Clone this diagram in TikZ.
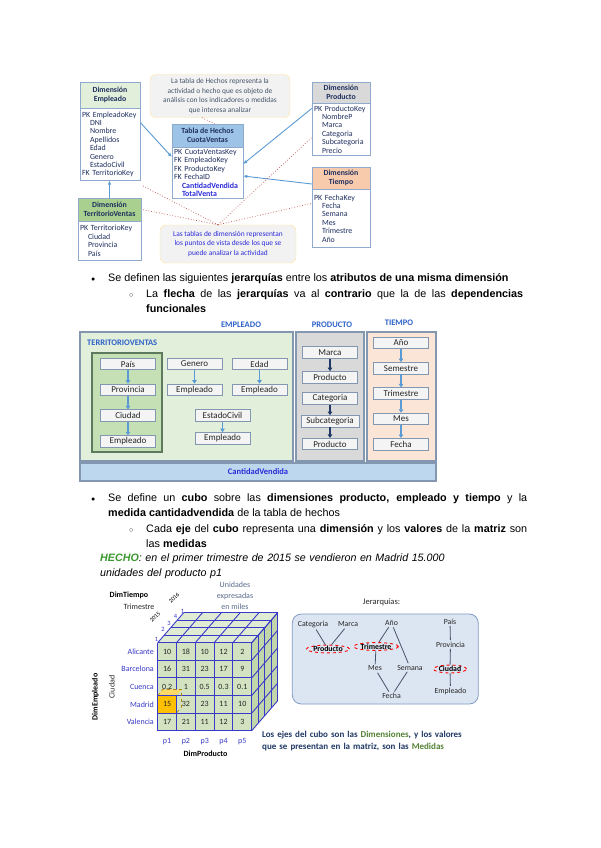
\documentclass[tikz,border=0pt]{standalone}
\usepackage{fontspec}
\setmainfont{Liberation Sans}
\newfontfamily\calib{Carlito}
\usetikzlibrary{positioning,arrows.meta,calc,shapes.geometric}

\definecolor{navy}{HTML}{1F2F5F}
\definecolor{tblborder}{HTML}{8FAACC}
\definecolor{hdempl}{HTML}{E2EFDA}
\definecolor{hdterr}{HTML}{A9D08E}
\definecolor{hdfact}{HTML}{9DC3E6}
\definecolor{hdprod}{HTML}{D9D9D9}
\definecolor{hdtiem}{HTML}{F8CBAD}
\definecolor{linkblue}{HTML}{5B9BD5}
\definecolor{dotred}{HTML}{C0504D}
\definecolor{notefill}{HTML}{F2F2F2}
\definecolor{noteedge}{HTML}{FFE699}
\definecolor{notegray}{HTML}{44546A}
\definecolor{textblue}{HTML}{2B2BD9}
\definecolor{panelblue}{HTML}{2E62C9}
\definecolor{panelgreen}{HTML}{E2EFDA}
\definecolor{terrgreen}{HTML}{C5E0B4}
\definecolor{terredge}{HTML}{5E7A5E}
\definecolor{panelgray}{HTML}{D9D9D9}
\definecolor{panelpeach}{HTML}{FBE5D6}
\definecolor{barblue}{HTML}{BDD7EE}
\definecolor{paneledge}{HTML}{8497B0}
\definecolor{hboxfill}{HTML}{F4F4F4}
\definecolor{txtdark}{HTML}{262626}
\definecolor{darkarrow}{HTML}{1F3864}
\definecolor{hechogreen}{HTML}{3A9A2E}
\definecolor{cubefront}{HTML}{D3E2C1}
\definecolor{cubetop}{HTML}{E0EBD3}
\definecolor{cubeside}{HTML}{C2D6AC}
\definecolor{cubeline}{HTML}{3A3AC8}
\definecolor{cellorange}{HTML}{FFC000}
\definecolor{celltop}{HTML}{FFD966}
\definecolor{unitgray}{HTML}{5A6B8C}
\definecolor{jerfill}{HTML}{DCE6F2}
\definecolor{jeredge}{HTML}{7F9BC4}
\definecolor{jerline}{HTML}{44546A}
\definecolor{ejesgreen}{HTML}{548235}

\newcommand{\tind}{\hspace*{8pt}}
\newcommand{\bul}{{\fontsize{7}{7}\selectfont ●}}
\newcommand{\subbul}{{\fontsize{7}{7}\selectfont ○}}

\tikzset{
  dimhead/.style={draw=tblborder,inner sep=1pt,align=center,text=navy,
    font=\calib\bfseries\fontsize{7.8}{9.2}\selectfont},
  dimbody/.style={draw=tblborder,fill=white,anchor=north,inner sep=2pt,
    text width=#1,align=left,text=navy,font=\calib\fontsize{7.9}{8.4}\selectfont},
  note/.style={draw=noteedge,fill=notefill,rounded corners=6pt,align=center,
    inner sep=2pt,font=\calib\fontsize{7.4}{9.6}\selectfont},
  fklink/.style={draw=linkblue,line width=0.9pt,-{Latex[length=4pt,width=3.5pt]}},
  viewlink/.style={draw=dotred,line width=0.7pt,dotted},
  bodytext/.style={inner sep=0pt,anchor=base west,font=\fontsize{10.8}{15.5}\selectfont},
  panel/.style={draw=paneledge,line width=1.2pt,inner sep=0pt},
  panellbl/.style={inner sep=0pt,text=panelblue,font=\calib\bfseries\fontsize{8.5}{10}\selectfont},
  hbox/.style={draw=paneledge,fill=hboxfill,line width=0.8pt,minimum width=55pt,
    minimum height=11.5pt,inner sep=0pt,text=txtdark,font=\calib\fontsize{9}{9}\selectfont},
  hierarrow/.style={draw=linkblue,line width=1.3pt,-{Triangle[length=3.5pt,width=4.5pt]}},
  prodarrow/.style={hierarrow,draw=darkarrow},
  cubegrid/.style={draw=cubeline,line width=0.9pt},
  cubelbl/.style={inner sep=0pt,font=\calib\fontsize{8}{9}\selectfont},
  jlbl/.style={inner sep=1.5pt,text=txtdark,font=\calib\fontsize{7.8}{9}\selectfont},
  jring/.style={ellipse,draw=red,dashed,line width=0.9pt,inner xsep=0.5pt,inner ysep=0pt,
    font=\calib\bfseries\fontsize{7.8}{9}\selectfont},
  jline/.style={draw=jerline,line width=0.8pt}
}

\begin{document}
\begin{tikzpicture}[x=1pt,y=-1pt]
\fill[white] (0,0) rectangle (600,848);
\useasboundingbox (0,0) rectangle (600,848);

% star schema
\node[dimhead,fill=hdempl,minimum width=60pt,minimum height=26pt] (empH) at (110,95) {Dimensión\\Empleado};
\node[dimbody=56pt,minimum height=72pt] (empB) at (empH.south)
  {PK EmpleadoKey\\\tind DNI\\\tind Nombre\\\tind Apellidos\\\tind Edad\\\tind Genero\\\tind EstadoCivil\\FK TerritorioKey};
\node[dimhead,fill=hdterr,minimum width=63pt,minimum height=23pt] (terH) at (109.5,209.5) {Dimensión\\TerritorioVentas};
\node[dimbody=59pt,minimum height=39pt] (terB) at (terH.south)
  {PK TerritorioKey\\\tind Ciudad\\\tind Provincia\\\tind País};
\node[dimhead,fill=hdfact,minimum width=71pt,minimum height=23pt] (factH) at (207.5,135.5) {Tabla de Hechos\\CuotaVentas};
\node[dimbody=67pt,minimum height=51pt] (factB) at (factH.south)
  {PK CuotaVentasKey\\FK EmpleadoKey\\FK ProductoKey\\FK FechaID\\
   \tind\textcolor{textblue}{\bfseries CantidadVendida}\\\tind\textcolor{textblue}{\bfseries TotalVenta}};
\node[dimhead,fill=hdprod,minimum width=58pt,minimum height=21pt] (prodH) at (341,92.5) {Dimensión\\Producto};
\node[dimbody=54pt,minimum height=52pt] (prodB) at (prodH.south)
  {PK ProductoKey\\\tind NombreP\\\tind Marca\\\tind Categoria\\\tind Subcategoria\\\tind Precio};
\node[dimhead,fill=hdtiem,minimum width=58pt,minimum height=22pt] (tiemH) at (341,178) {Dimensión\\Tiempo};
\node[dimbody=54pt,minimum height=58pt] (tiemB) at (tiemH.south)
  {PK FechaKey\\\tind Fecha\\\tind Semana\\\tind Mes\\\tind Trimestre\\\tind Año};

\node[note,text=notegray,minimum width=140pt,minimum height=43pt] (topnote) at (220,96)
  {La tabla de Hechos representa la\\actividad o hecho que es objeto de\\análisis con los indicadores o medidas\\que interesa analizar};
\node[note,text=textblue,minimum width=136pt,minimum height=38pt] (botnote) at (228,244)
  {Las tablas de dimensión representan\\los puntos de vista desde los que se\\puede analizar la actividad};

\draw[fklink] ([yshift=22pt]empB.east) -- ([yshift=16pt]factB.west);
\draw[fklink] ([yshift=21pt]prodB.west) -- ([yshift=9pt]factB.east);
\draw[fklink] ([yshift=-6pt]tiemH.west) -- ([yshift=-3pt]factB.east);
\draw[fklink] (terH.north) -- (terH.north |- empB.south);

\coordinate (hub) at ([xshift=-10pt]botnote.north);
\draw[viewlink] (hub) -- ([xshift=2pt,yshift=-5pt]empB.south east);
\draw[viewlink] (hub) -- ([xshift=1pt]terH.east);
\draw[viewlink] (hub) -- ([yshift=-8pt]prodB.west);
\draw[viewlink] (hub) -- ([yshift=15pt]tiemB.west);
\draw[viewlink] ([xshift=-18pt]topnote.south) -- ([xshift=7pt]factH.north);

% bullets
\node[bodytext] (blt1) at (91,281) {\bul};
\node[bodytext] (txt1) at (108,281) {Se definen las siguientes \textbf{jerarquías} entre los \textbf{atributos de una misma dimensión}};
\node[bodytext] (sbl1) at (129,297) {\subbul};
\node[bodytext,text width=377pt,align=justify] (txt2) at (146,297)
  {La \textbf{flecha} de las \textbf{jerarquías} va al \textbf{contrario} que la de las \textbf{dependencias}\linebreak \textbf{funcionales}};

% hierarchies per dimension
\node[panellbl] (lblemp) at (241,325) {EMPLEADO};
\node[panellbl] (lblprod) at (332,325) {PRODUCTO};
\node[panellbl] (lbltiem) at (399,323) {TIEMPO};
\node[panel,fill=panelgreen,minimum width=213pt,minimum height=129pt] (pemp) at (186.5,396.5) {};
\node[panel,fill=panelgray,minimum width=68pt,minimum height=129pt] (pprod) at (330,396.5) {};
\node[panel,fill=panelpeach,minimum width=69pt,minimum height=129pt] (ptiem) at (401.5,396.5) {};
\node[panel,fill=terrgreen,draw=terredge,minimum width=70pt,minimum height=99pt] (pterr) at (127,402.5) {};
\node[panellbl,anchor=west] (lblterr) at (87,343) {TERRITORIOVENTAS};
\node[panel,fill=barblue,minimum width=356pt,minimum height=18pt,text=textblue,
  font=\calib\bfseries\fontsize{8.5}{10}\selectfont] (bar) at (258,472) {CantidadVendida};

\node[hbox] (pais) at (128,364) {País};
\node[hbox,below=13.5pt of pais] (prov) {Provincia};
\node[hbox,below=13.5pt of prov] (ciud) {Ciudad};
\node[hbox,below=13.5pt of ciud] (emp1) {Empleado};
\node[hbox] (gen) at (194.5,364) {Genero};
\node[hbox,below=13.5pt of gen] (emp2) {Empleado};
\node[hbox] (edad) at (259.5,364) {Edad};
\node[hbox,below=13.5pt of edad] (emp3) {Empleado};
\node[hbox] (civil) at (222.5,415.5) {EstadoCivil};
\node[hbox,below=10.5pt of civil] (emp4) {Empleado};
\draw[hierarrow] (pais) -- (prov);
\draw[hierarrow] (prov) -- (ciud);
\draw[hierarrow] (ciud) -- (emp1);
\draw[hierarrow] (gen) -- (emp2);
\draw[hierarrow] (edad) -- (emp3);
\draw[hierarrow] (civil) -- (emp4);

\node[hbox] (marca) at (330,352.5) {Marca};
\node[hbox,below=12.5pt of marca] (prod1) {Producto};
\node[hbox] (cat) at (330,398.5) {Categoria};
\node[hbox,below=10.5pt of cat,minimum width=58pt] (subcat) {Subcategoria};
\node[hbox,below=10.5pt of subcat] (prod2) {Producto};
\draw[prodarrow] (marca) -- (prod1);
\draw[prodarrow] (cat) -- (subcat);
\draw[prodarrow] (subcat) -- (prod2);

\node[hbox] (ano) at (401,343) {Año};
\node[hbox,below=13pt of ano] (sem) {Semestre};
\node[hbox,below=13pt of sem] (trim) {Trimestre};
\node[hbox,below=13pt of trim] (mes) {Mes};
\node[hbox,below=13pt of mes] (fecha) {Fecha};
\draw[hierarrow] (ano) -- (sem);
\draw[hierarrow] (sem) -- (trim);
\draw[hierarrow] (trim) -- (mes);
\draw[hierarrow] (mes) -- (fecha);

% cube bullets
\node[bodytext] (blt2) at (91,501) {\bul};
\node[bodytext,text width=419pt,align=justify] (txt3) at (108,501)
  {Se define un \textbf{cubo} sobre las \textbf{dimensiones producto, empleado y tiempo} y la\linebreak \textbf{medida cantidadvendida} de la tabla de hechos};
\node[bodytext] (sbl2) at (129,532) {\subbul};
\node[bodytext,text width=381pt,align=justify] (txt4) at (146,532)
  {Cada \textbf{eje} del \textbf{cubo} representa una \textbf{dimensión} y los \textbf{valores} de la \textbf{matriz} son\linebreak las \textbf{medidas}};
\node[bodytext,text width=420pt,align=left,font=\fontsize{10.7}{15}\selectfont\itshape] (hecho) at (100,561)
  {\textcolor{hechogreen}{\bfseries HECHO}: en el primer trimestre de 2015 se vendieron en Madrid 15.000\\unidades del producto p1};

% the cube
\def\cx{157.7} \def\cy{642.7} \def\cw{18.8} \def\ch{17.6} \def\dx{6.5} \def\dy{7.5}
\fill[cubetop] (\cx,\cy) -- ++(4*\dx,-4*\dy) -- ++(5*\cw,0) -- ++(-4*\dx,4*\dy) -- cycle;
\fill[cubeside] (\cx+5*\cw,\cy) -- ++(4*\dx,-4*\dy) -- ++(0,5*\ch) -- ++(-4*\dx,4*\dy) -- cycle;
\fill[cubefront] (\cx,\cy) rectangle ++(5*\cw,5*\ch);
\foreach \i in {0,...,5} {
  \draw[cubegrid] (\cx+\i*\cw,\cy) -- ++(0,5*\ch);
  \draw[cubegrid] (\cx+\i*\cw,\cy) -- ++(4*\dx,-4*\dy);
  \draw[cubegrid] (\cx,\cy+\i*\ch) -- ++(5*\cw,0);
  \draw[cubegrid] (\cx+5*\cw,\cy+\i*\ch) -- ++(4*\dx,-4*\dy);
}
\foreach \k in {1,...,4}
  \draw[cubegrid] (\cx+\k*\dx,\cy-\k*\dy) -- ++(5*\cw,0) -- ++(0,5*\ch);
% highlighted fact
\fill[celltop] (\cx,\cy+3*\ch) -- ++(5,-6) -- ++(\cw,0) -- ++(-5,6) -- cycle;
\draw[cellorange!70!black,dashed,line width=0.6pt] (\cx,\cy+3*\ch) -- ++(5,-6) -- ++(\cw,0) -- ++(0,\ch) -- ++(-5,6);
\fill[cellorange] (\cx,\cy+3*\ch) rectangle ++(\cw,\ch);
\draw[cubegrid] (\cx,\cy+3*\ch) rectangle ++(\cw,\ch);

\foreach \r/\city/\va/\vb/\vc/\vd/\ve in {0/Alicante/10/18/10/12/2, 1/Barcelona/16/31/23/17/9,
    2/Cuenca/0.2/1/0.5/0.3/0.1, 3/Madrid/15/32/23/11/10, 4/Valencia/17/21/11/12/3} {
  \node[cubelbl,anchor=east,text=cubeline] (city\r) at (154,\cy+\r*\ch+\ch/2) {\city};
  \foreach \v [count=\j from 0] in {\va,\vb,\vc,\vd,\ve}
    \node[cubelbl,text=txtdark] (v\r\j) at (\cx+\j*\cw+\cw/2,\cy+\r*\ch+\ch/2) {\v};
}
\foreach \p in {1,...,5}
  \node[cubelbl,text=cubeline] (p\p) at (\cx+\p*\cw-\cw/2,742) {p\p};
\node[cubelbl,font=\calib\bfseries\fontsize{8}{9}\selectfont] (dimprod) at (205.5,754) {DimProducto};
\node[cubelbl,font=\calib\bfseries\fontsize{8}{9}\selectfont] (dimtiem) at (129,595) {DimTiempo};
\node[cubelbl,text=txtdark] (trimlbl) at (139,606.5) {Trimestre};
\node[cubelbl,rotate=45,font=\calib\fontsize{6}{7}\selectfont] (y2015) at (155,617) {2015};
\node[cubelbl,rotate=45,font=\calib\fontsize{6}{7}\selectfont] (y2016) at (174,598) {2016};
\foreach \q/\qx/\qy [count=\n] in {1/156.5/639, 2/163/629.5, 3/169/623, 4/175.5/616.5, 1/182.5/611.5}
  \node[cubelbl,text=cubeline,font=\calib\fontsize{6.5}{7}\selectfont] (q\n) at (\qx,\qy) {\q};
\node[cubelbl,text=unitgray,align=center,font=\calib\fontsize{8}{10.8}\selectfont] (units) at (235,596) {Unidades\\expresadas\\en miles};
\node[cubelbl,rotate=90,text=txtdark] (ciudlbl) at (112,687) {Ciudad};
\node[cubelbl,rotate=90,font=\calib\bfseries\fontsize{8}{9}\selectfont] (dimemp) at (95.5,697) {DimEmpleado};

% jerarquias
\node[jlbl,font=\calib\fontsize{8.5}{9}\selectfont] (jtitle) at (381.5,602.5) {Jerarquías:};
\node[draw=jeredge,fill=jerfill,rounded corners=9pt,line width=0.8pt,minimum width=186pt,minimum height=90pt] (jbox) at (385.3,659) {};
\node[jlbl] (jcat) at (313,624.5) {Categoria};
\node[jlbl] (jmarca) at (348,624.5) {Marca};
\node[jlbl] (jano) at (391.5,623) {Año};
\node[jlbl] (jpais) at (450,621.5) {País};
\node[jring] (jprod) at (328,649) {Producto};
\node[jring] (jtrim) at (376,646.5) {Trimestre};
\node[jlbl] (jprov) at (450.5,644.5) {Provincia};
\node[jlbl] (jmes) at (375,668.5) {Mes};
\node[jlbl] (jsem) at (410,667.5) {Semana};
\node[jring] (jciud) at (450,669) {Ciudad};
\node[jlbl] (jfecha) at (391.5,696) {Fecha};
\node[jlbl] (jempl) at (450.5,691) {Empleado};
\draw[jline] (jcat) -- (jprod);
\draw[jline] (jmarca) -- (jprod);
\draw[jline] (jano) -- (jtrim);
\draw[jline] (jano) -- (jsem);
\draw[jline] (jtrim) -- (jmes);
\draw[jline] (jmes) -- (jfecha);
\draw[jline] (jsem) -- (jfecha);
\draw[jline] (jpais) -- (jprov);
\draw[jline] (jprov) -- (jciud);
\draw[jline] (jciud) -- (jempl);

\node[inner sep=0pt,anchor=base west,text width=230pt,align=left,text=darkarrow,
  font=\calib\bfseries\fontsize{9}{12.5}\selectfont] (ejes) at (262,737)
  {Los ejes del cubo son las \textcolor{ejesgreen}{Dimensiones}, y los valores\\que se presentan en la matriz, son las \textcolor{ejesgreen}{Medidas}};
\end{tikzpicture}
\end{document}
